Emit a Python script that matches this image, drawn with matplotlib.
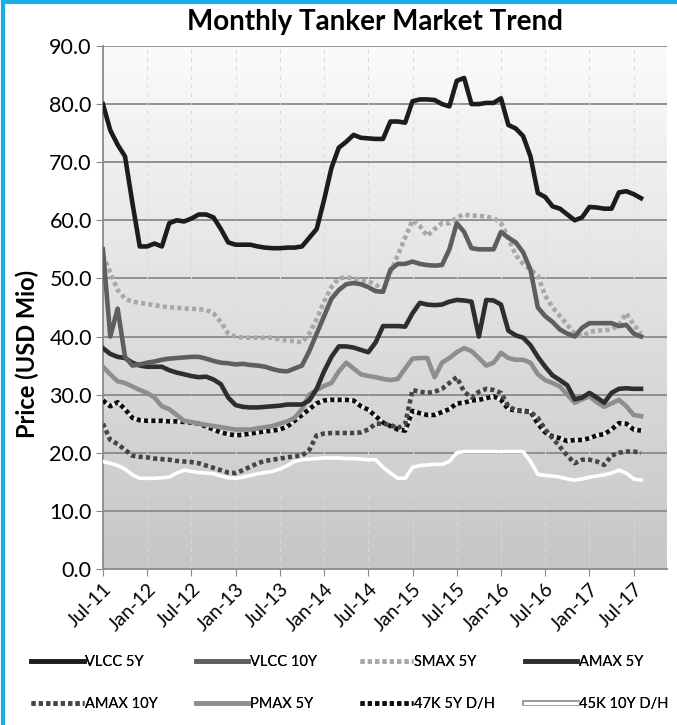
import numpy as np
import matplotlib
matplotlib.use("Agg")
import matplotlib.pyplot as plt
import matplotlib.patheffects as pe
from matplotlib.colors import LinearSegmentedColormap
from matplotlib.lines import Line2D

# Monthly values, Jul-11 .. Aug-17 (USD Mio)
vlcc_5y = [80, 75.5, 73, 71, 63, 55.5, 55.5, 56, 55.5, 59.5, 60, 59.8, 60.3, 61, 61, 60.5,
           58.5, 56.2, 55.8, 55.8, 55.8, 55.5, 55.3, 55.2, 55.2, 55.3, 55.3, 55.5, 57, 58.5,
           63.5, 69, 72.5, 73.5, 74.7, 74.2, 74.1, 74, 74, 77, 77, 76.8, 80.5, 80.8, 80.8,
           80.7, 80, 79.6, 84, 84.5, 80, 80, 80.2, 80.2, 81, 76.4, 75.8, 74.5, 71, 64.7, 64,
           62.4, 62, 61, 60, 60.5, 62.3, 62.2, 62, 62, 64.8, 65, 64.5, 63.8]
vlcc_10y = [55, 40, 44.8, 36.5, 35, 35.2, 35.5, 35.7, 36, 36.2, 36.3, 36.4, 36.5, 36.5, 36.2,
            35.8, 35.5, 35.4, 35.2, 35.3, 35.1, 35, 34.8, 34.4, 34.1, 34, 34.5, 35, 37.5, 40.5,
            43.5, 46.5, 48, 49, 49.2, 49, 48.5, 47.8, 47.7, 51.5, 52.5, 52.5, 52.9, 52.5, 52.3,
            52.2, 52.3, 55, 59.5, 58, 55.2, 55, 55, 55, 58, 57, 56.2, 54.5, 51.5, 45, 43.5, 42.5,
            41.2, 40.5, 40, 41.5, 42.3, 42.3, 42.3, 42.3, 41.8, 42, 40.5, 40]
smax_5y = [54, 51, 48, 46.5, 46, 45.8, 45.6, 45.4, 45.2, 45, 45, 44.8, 44.8, 44.7, 44.6, 44,
           42.5, 40.5, 40, 39.8, 39.8, 39.8, 39.8, 39.8, 39.5, 39.3, 39.2, 39, 40.5, 43, 46,
           48.5, 50, 50.2, 50, 49.7, 49.5, 49, 47.8, 51, 54, 57, 60, 59, 57.3, 58.5, 59.5, 59.5,
           60.5, 61, 60.8, 60.8, 60.6, 60.4, 59.5, 57, 54, 52.5, 51.5, 50.5, 47, 45, 43.5, 42,
           40.5, 40, 40.8, 41, 41.1, 41.2, 42, 44, 42, 40.5]
amax_5y = [38, 37, 36.5, 36.3, 35.5, 35, 34.8, 34.8, 34.8, 34.2, 33.8, 33.5, 33.2, 33, 33.1,
           32.6, 31.8, 29.5, 28.2, 27.9, 27.8, 27.8, 27.9, 28, 28.1, 28.3, 28.3, 28.3, 29, 31,
           34, 36.5, 38.3, 38.3, 38.1, 37.7, 37.3, 39, 41.8, 41.8, 41.8, 41.7, 44, 45.8, 45.5,
           45.4, 45.5, 46, 46.3, 46.2, 46, 40, 46.3, 46.2, 45.5, 41, 40.2, 39.8, 38.5, 36.5,
           34.8, 33.3, 32.5, 31.6, 29.2, 29.5, 30.3, 29.5, 28.6, 30.3, 31, 31.1, 31, 31]
amax_10y = [25, 22.2, 21.5, 20.5, 19.5, 19.3, 19.2, 19, 18.9, 18.8, 18.6, 18.5, 18.4, 18.2,
            17.8, 17.4, 17, 16.6, 16.5, 17, 17.6, 18.2, 18.6, 18.8, 19, 19.2, 19.4, 19.5, 20.5,
            23, 23.3, 23.4, 23.4, 23.4, 23.4, 23.5, 24, 25, 25, 24.8, 24.2, 25, 30.8, 30.5,
            30.3, 30.5, 31, 32, 33, 30.5, 29.5, 30.5, 31, 30.8, 30.3, 28, 27.3, 27.1, 27, 26,
            24, 22.5, 21, 19.5, 18.2, 18.8, 18.8, 18.5, 17.9, 19.5, 20, 20.2, 20.2, 20]
pmax_5y = [34.8, 33.5, 32.3, 32, 31.4, 30.8, 30.3, 29.5, 28, 27.5, 26.5, 25.5, 25.3, 25, 24.8,
           24.6, 24.4, 24.2, 24, 24, 24, 24.2, 24.4, 24.6, 25, 25.4, 26, 27.5, 30, 30.8, 31.5,
           32, 34, 35.5, 34.5, 33.5, 33.2, 33, 32.7, 32.5, 32.7, 34.5, 36.2, 36.3, 36.3, 33,
           35.5, 36.3, 37.3, 38, 37.5, 36.3, 35, 35.5, 37.2, 36.3, 36, 36, 35.5, 33.5, 32.5,
           32, 31.4, 30, 28.6, 29.2, 29.7, 28.7, 27.9, 28.5, 29.1, 28, 26.5, 26.3]
k47_5y = [29, 28, 28.7, 27.5, 26, 25.6, 25.5, 25.5, 25.5, 25.4, 25.4, 25.3, 25.2, 25, 24.5, 24,
          23.5, 23.2, 23, 23.1, 23.3, 23.5, 23.7, 23.8, 24, 24.5, 25.5, 26.5, 27.5, 28.5, 29,
          29.1, 29.1, 29.1, 29, 28, 27.4, 26.3, 25.2, 24.6, 24, 23.8, 27.2, 26.8, 26.5, 26.5,
          27, 27.5, 28.5, 28.6, 29, 29.1, 29.4, 29.7, 29.1, 27.5, 27.3, 27.2, 27.1, 25, 23.5,
          22.8, 22.5, 22, 22.2, 22.2, 22.5, 23, 23.2, 24, 25.1, 25, 24, 23.8]
k45_10y = [18.5, 18.2, 17.8, 17.2, 16.2, 15.6, 15.6, 15.6, 15.7, 15.8, 16.5, 17, 16.8, 16.6,
           16.5, 16.4, 16, 15.7, 15.6, 15.8, 16.1, 16.4, 16.6, 16.8, 17.2, 17.8, 18.5, 18.8,
           18.9, 19, 19.1, 19.1, 19.1, 19, 19, 18.9, 18.8, 18.8, 17.5, 16.5, 15.6, 15.6, 17.5,
           17.8, 17.9, 18, 18, 18.5, 20, 20.2, 20.2, 20.2, 20.2, 20.2, 20.2, 20.2, 20.2, 20.2,
           18.5, 16.3, 16.1, 16, 15.8, 15.5, 15.3, 15.5, 15.8, 16, 16.2, 16.5, 17, 16.5, 15.5,
           15.3]

tick_labels = ['Jul-11', 'Jan-12', 'Jul-12', 'Jan-13', 'Jul-13', 'Jan-14', 'Jul-14',
               'Jan-15', 'Jul-15', 'Jan-16', 'Jul-16', 'Jan-17', 'Jul-17']

FONT = ['Lato', 'DejaVu Sans']

fig = plt.figure(figsize=(6.77, 7.25), dpi=100)
ax = fig.add_axes([0.152, 0.2152, 0.833, 0.7214])

months = np.arange(len(vlcc_5y))
xmax = 76.5

# background gradient (white at top to grey at bottom)
grad = LinearSegmentedColormap.from_list('bg', ['#c6c6c6', '#fbfbfb'])
ax.imshow(np.linspace(0, 1, 256).reshape(-1, 1), extent=[0, xmax, 0, 90], origin='lower',
          aspect='auto', cmap=grad, zorder=0)

ax.set_xlim(0, xmax)
ax.set_ylim(0, 90)

# grid
ax.set_yticks(np.arange(0, 91, 10))
ax.set_yticklabels([f'{v:.1f}' for v in np.arange(0, 91, 10)], fontsize=15.5, family=FONT)
xt = np.arange(0, 73, 6)
ax.set_xticks(xt)
ax.set_xticklabels(tick_labels, rotation=45, ha='right', rotation_mode='anchor',
                   fontsize=14, family=FONT)
for y in range(10, 91, 10):
    ax.axhline(y, color='#8a8a8a', lw=1.3, zorder=1)
for x in xt[1:]:
    ax.axvline(x, color='#dadada', lw=0.7, ls=(0, (4, 5)), zorder=1)

for s in ['top', 'right']:
    ax.spines[s].set_visible(False)
for s in ['left', 'bottom']:
    ax.spines[s].set_color('#8a8a8a')
    ax.spines[s].set_linewidth(1.3)
ax.tick_params(axis='both', direction='out', color='#8a8a8a', length=5, pad=3)

lw = 3.3
dot = (0, (0.9, 0.7))
styles = [
    ('VLCC 5Y', vlcc_5y, dict(color='#1c1c1c', lw=lw)),
    ('VLCC 10Y', vlcc_10y, dict(color='#5e5e5e', lw=lw)),
    ('SMAX 5Y', smax_5y, dict(color='#a8a8a8', lw=lw, ls=dot)),
    ('AMAX 5Y', amax_5y, dict(color='#2e2e2e', lw=lw)),
    ('AMAX 10Y', amax_10y, dict(color='#454545', lw=lw, ls=dot)),
    ('PMAX 5Y', pmax_5y, dict(color='#8e8e8e', lw=lw)),
    ('47K 5Y D/H', k47_5y, dict(color='#0d0d0d', lw=lw, ls=dot)),
    ('45K 10Y D/H', k45_10y, dict(color='white', lw=2.6)),
]

handles = []
for i, (name, vals, kw) in enumerate(styles):
    z = 10 - i
    if name == '47K 5Y D/H':
        ax.plot(months, vals, color='#f2f2f2', lw=lw - 1.2, zorder=z)
    ax.plot(months, vals, zorder=z, dash_capstyle='butt', solid_joinstyle='round', **kw)
    if name == '45K 10Y D/H':
        h = Line2D([], [], color='white', lw=2.2,
                   path_effects=[pe.Stroke(linewidth=4, foreground='#9a9a9a'), pe.Normal()])
    else:
        h = Line2D([], [], dash_capstyle='butt', **kw)
    handles.append(h)

fig.text(0.554, 0.969, 'Monthly Tanker Market Trend', ha='center', va='center',
         fontsize=20, fontweight='bold', family=FONT)
fig.text(0.040, 0.512, 'Price (USD Mio)', rotation=90, ha='center', va='center',
         fontsize=17, fontweight='bold', family=FONT)

# legend: four columns of two entries, placed one by one
col_x = [0.046, 0.289, 0.532, 0.775]
for c, x0 in enumerate(col_x):
    idx = [c, c + 4]
    leg = fig.legend([handles[i] for i in idx], [styles[i][0] for i in idx],
                     loc='upper left', bbox_to_anchor=(x0, 0.096), frameon=False,
                     handlelength=3.6, handletextpad=0.1, labelspacing=1.9,
                     borderpad=0, borderaxespad=0, prop={'family': FONT, 'size': 10.5})
    fig.add_artist(leg)

# light blue frame on left and top
fig.add_artist(Line2D([0.005, 0.005], [0, 0.997], color='#1aaee8', lw=3,
                      transform=fig.transFigure))
fig.add_artist(Line2D([0.005, 1], [0.997, 0.997], color='#1aaee8', lw=3,
                      transform=fig.transFigure))

fig.savefig('out.png', dpi=100)
